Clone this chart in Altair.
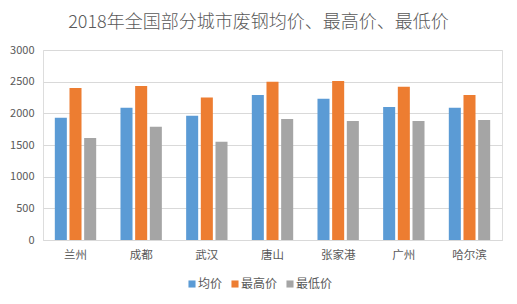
import altair as alt
import pandas as pd

cities = ["兰州", "成都", "武汉", "唐山", "张家港", "广州", "哈尔滨"]
series = ["均价", "最高价", "最低价"]
avg_price = [1930, 2090, 1960, 2290, 2230, 2100, 2090]
max_price = [2400, 2430, 2250, 2500, 2510, 2420, 2290]
min_price = [1610, 1790, 1550, 1910, 1880, 1880, 1895]
colors = ["#5B9BD5", "#ED7D31", "#A5A5A5"]

rows = []
for i, c in enumerate(cities):
    for s, vals in zip(series, [avg_price, max_price, min_price]):
        rows.append({"city": c, "series": s, "value": vals[i]})
df = pd.DataFrame(rows)

FONT = "Noto Sans CJK SC"

chart = alt.Chart(df).mark_bar().encode(
    x=alt.X("city:N", sort=cities, title=None,
            scale=alt.Scale(paddingInner=0.37, paddingOuter=0.18),
            axis=alt.Axis(labelAngle=0, ticks=False, domain=True, domainColor="#D9D9D9",
                          labelFont=FONT, labelFontSize=11.5, labelColor="#595959",
                          labelPadding=9)),
    xOffset=alt.XOffset("series:N", sort=series, scale=alt.Scale(paddingInner=0.18)),
    y=alt.Y("value:Q", title=None,
            scale=alt.Scale(domain=[0, 3000], nice=False),
            axis=alt.Axis(values=[0, 500, 1000, 1500, 2000, 2500, 3000], ticks=False, domain=False,
                          format="d",
                          gridColor="#D9D9D9", labelFont=FONT, labelFontSize=11,
                          labelColor="#595959", labelPadding=9)),
    color=alt.Color("series:N", sort=series, title=None,
                    scale=alt.Scale(domain=series, range=colors),
                    legend=alt.Legend(orient="none", direction="horizontal", legendX=143, legendY=228,
                                      symbolType="square", symbolSize=50, symbolStrokeWidth=0,
                                      labelFont=FONT, labelFontSize=12, labelColor="#595959",
                                      columnPadding=6, labelOffset=0, gridAlign="none")),
).properties(
    width=459, height=190,
    title=alt.Title("2018年全国部分城市废钢均价、最高价、最低价", font=FONT, fontSize=18,
                    fontWeight=300, color="#595959", anchor="middle", dx=-14, offset=12),
    padding={"left": 43, "top": 50, "right": 15, "bottom": 64},
    autosize=alt.AutoSizeParams(type="none"),
).configure_view(stroke=None).configure(background="white")

chart.save("out.html", embed_options={"renderer": "svg", "actions": False})
